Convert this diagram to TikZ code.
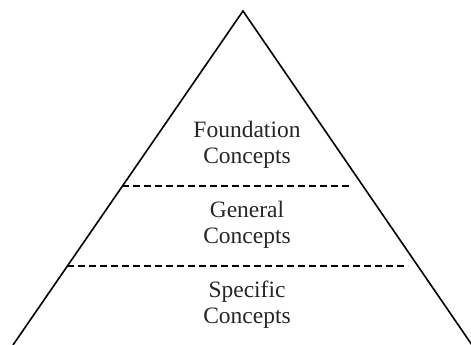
\documentclass[tikz,border=0pt]{standalone}
\usepackage{fontspec}
\setmainfont{Liberation Serif}
\usepackage{tikz}

\begin{document}
\begin{tikzpicture}[x=1pt, y=1pt, thick, line width=1.6pt,
  level/.style = {align=center, font=\fontsize{23.5}{26}\selectfont, text=black!85},
  split/.style = {dashed, dash pattern=on 7pt off 4pt, line width=1.4pt}]
\useasboundingbox (0,0) rectangle (471,345);
\coordinate (top) at (243,334);
\coordinate (bl) at (13,0);
\coordinate (br) at (472,0);
\coordinate (a1) at (122,159);
\coordinate (a2) at (352,159);
\coordinate (b1) at (67,79);
\coordinate (b2) at (408,79);
\node[level] (found) at (247,200) {Foundation\\Concepts};
\node[level] (gen) at (247,120) {General\\Concepts};
\node[level] (spec) at (247,40) {Specific\\Concepts};
\draw (bl) -- (top) -- (br);
\draw[split] (a1) -- (a2);
\draw[split] (b1) -- (b2);
\end{tikzpicture}
\end{document}
